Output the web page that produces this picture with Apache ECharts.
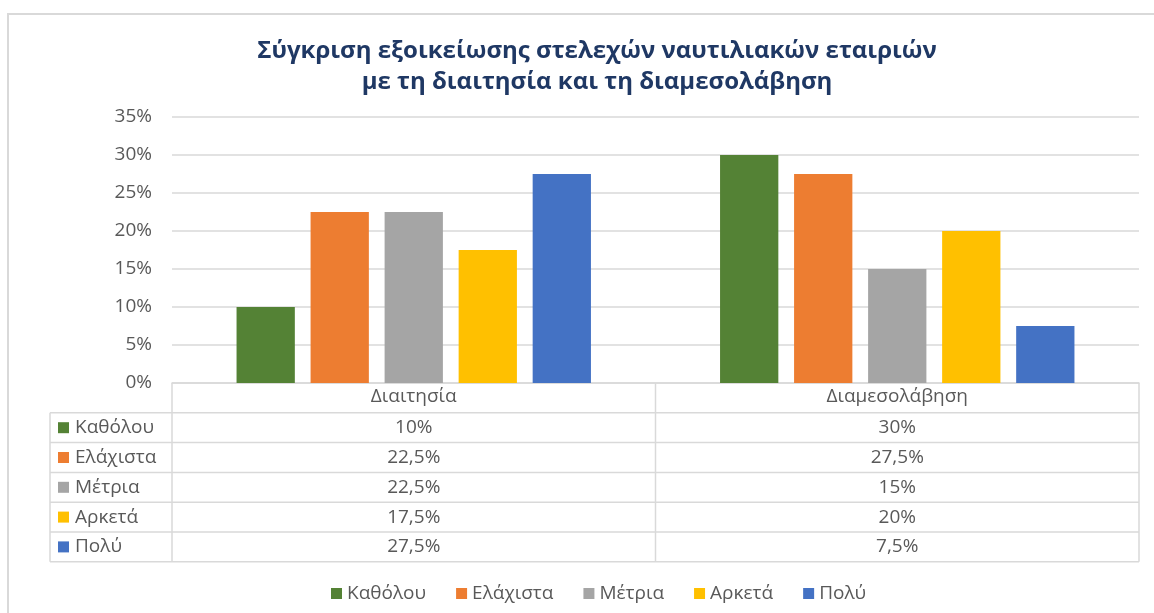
<!DOCTYPE html>
<html>
<head>
<meta charset="utf-8">
<script src="https://cdn.jsdelivr.net/npm/echarts@6/dist/echarts.min.js"></script>
<style>
  html, body { margin: 0; padding: 0; background: #ffffff; }
  #chart { width: 1154px; height: 613px; }
</style>
</head>
<body>
<div id="chart"></div>
<script>
// data
const categories = ["Διαιτησία", "Διαμεσολάβηση"];
const seriesNames = ["Καθόλου", "Ελάχιστα", "Μέτρια", "Αρκετά", "Πολύ"];
const katholou = [10, 30];
const elaxista = [22.5, 27.5];
const metria = [22.5, 15];
const arketa = [17.5, 20];
const poly = [27.5, 7.5];
const seriesValues = [katholou, elaxista, metria, arketa, poly];
const colors = ["#548235", "#ED7D31", "#A5A5A5", "#FFC000", "#4472C4"];

const FONT = "'Open Sans', 'Noto Sans', sans-serif";
const FS = 19;
const TEXT = "#595959";
const LINE = "#D9D9D9";

// table layout (under the plot)
const tableTop = 383;
const rowH = 29.8;
const tableLeft = 50;
const plotLeft = 172;
const plotRight = 1139;

const fmt = (v) => String(v).replace(".", ",") + "%";

const chart = echarts.init(document.getElementById("chart"));

const option = {
  animation: false,
  title: {
    text: "Σύγκριση εξοικείωσης στελεχών ναυτιλιακών εταιριών\nμε τη διαιτησία και τη διαμεσολάβηση",
    left: 592,
    textAlign: "center",
    top: 31,
    textStyle: {
      color: "#1F3864",
      fontSize: 24,
      fontWeight: "bold",
      fontFamily: "'Open Sans', sans-serif",
      lineHeight: 31,
    },
  },
  legend: {
    data: seriesNames,
    left: 326,
    top: 579,
    itemWidth: 11,
    itemHeight: 11,
    itemGap: 30,
    icon: "rect",
    textStyle: { color: TEXT, fontSize: FS, fontFamily: FONT },
  },
  grid: {
    left: plotLeft,
    right: 1154 - plotRight,
    top: 117,
    bottom: 613 - tableTop,
    containLabel: false,
  },
  xAxis: {
    type: "category",
    data: categories,
    axisLine: { lineStyle: { color: LINE, width: 1.5 } },
    axisTick: { show: false },
    axisLabel: {
      color: TEXT,
      fontSize: FS,
      fontFamily: FONT,
      margin: 4,
    },
  },
  yAxis: {
    type: "value",
    min: 0,
    max: 35,
    interval: 5,
    axisLine: { show: false },
    axisTick: { show: false },
    axisLabel: {
      color: TEXT,
      fontSize: FS,
      fontFamily: FONT,
      margin: 20,
      formatter: (v) => v + "%",
    },
    splitLine: { lineStyle: { color: LINE, width: 1.5 } },
  },
  series: seriesNames.map((name, i) => ({
    name,
    type: "bar",
    data: seriesValues[i],
    barGap: "27%",
    barCategoryGap: "26.7%",
    itemStyle: { color: colors[i] },
  })),
};

chart.setOption(option);

// data table drawn under the x axis
function buildTable() {
  const els = [];
  const bottom = tableTop + rowH * (seriesNames.length + 1);
  const mid = (plotLeft + plotRight) / 2;
  const lineStyle = { stroke: LINE, lineWidth: 1.5 };

  // vertical lines
  [plotLeft, mid, plotRight].forEach((x) => {
    els.push({ type: "line", shape: { x1: x, y1: tableTop, x2: x, y2: bottom }, style: lineStyle, silent: true });
  });
  els.push({ type: "line", shape: { x1: tableLeft, y1: tableTop + rowH, x2: tableLeft, y2: bottom }, style: lineStyle, silent: true });

  // horizontal lines
  for (let r = 1; r <= seriesNames.length + 1; r++) {
    const y = tableTop + rowH * r;
    els.push({ type: "line", shape: { x1: tableLeft, y1: y, x2: plotRight, y2: y }, style: lineStyle, silent: true });
  }

  seriesNames.forEach((name, i) => {
    const cy = tableTop + rowH * (i + 1.5);
    els.push({ type: "rect", shape: { x: 58, y: cy - 5.5, width: 11, height: 11 }, style: { fill: colors[i] }, silent: true });
    els.push({
      type: "text",
      x: 75,
      y: cy,
      style: { text: name, fill: TEXT, font: FS + "px " + FONT, textVerticalAlign: "middle" },
      silent: true,
    });
    categories.forEach((c, j) => {
      const cx = chart.convertToPixel({ xAxisIndex: 0 }, c);
      els.push({
        type: "text",
        x: cx,
        y: cy,
        style: { text: fmt(seriesValues[i][j]), fill: TEXT, font: FS + "px " + FONT, textAlign: "center", textVerticalAlign: "middle" },
        silent: true,
      });
    });
  });

  // outer chart frame
  els.push({
    type: "polyline",
    shape: { points: [[8, 620], [8, 14], [1160, 14]] },
    style: { stroke: LINE, lineWidth: 2, fill: null },
    silent: true,
  });

  chart.setOption({ graphic: els });
}

buildTable();
</script>
</body>
</html>
